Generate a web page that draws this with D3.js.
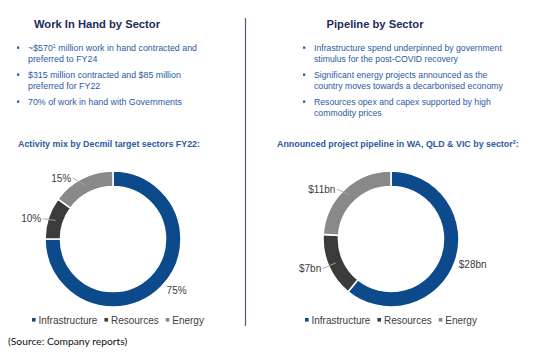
<!DOCTYPE html>
<html><head><meta charset="utf-8">
<script src="https://cdn.jsdelivr.net/npm/d3@7"></script>
<style>
html,body{margin:0;padding:0;background:#fff;}
svg{display:block;font-family:"Liberation Sans",Arial,sans-serif;}
</style></head>
<body><svg id="c" width="533" height="356"></svg>
<script>
const categories = ["Infrastructure", "Resources", "Energy"];
const workInHandShare = [75, 10, 15];          // % of activity mix FY22
const pipelineBn = [28, 7, 11];                // $bn announced pipeline
const workLabels = workInHandShare.map(v => v + "%");
const pipelineLabels = pipelineBn.map(v => "$" + v + "bn");
const colors = ["#0d4a8b", "#3b3b3b", "#898989"];

const leftTitle = "Work In Hand by Sector";
const rightTitle = "Pipeline by Sector";
const leftBullets = [
  [["~$570", "1", " million work in hand contracted and"], ["preferred to FY24"]],
  [["$315 million contracted and $85 million"], ["preferred for FY22"]],
  [["70% of work in hand with Governments"]]
];
const rightBullets = [
  [["Infrastructure spend underpinned by government"], ["stimulus for the post-COVID recovery"]],
  [["Significant energy projects announced as the"], ["country moves towards a decarbonised economy"]],
  [["Resources opex and capex supported by high"], ["commodity prices"]]
];
const leftSub = ["Activity mix by Decmil target sectors FY22:"];
const rightSub = ["Announced project pipeline in WA, QLD & VIC by sector", "2", ":"];
const sourceNote = "(Source: Company reports)";

const svg = d3.select("#c");
const navy = "#1c2b5e", blue = "#2d5aa0", grey = "#404040";

// divider
svg.append("line").attr("x1", 245.5).attr("x2", 245.5).attr("y1", 18).attr("y2", 326)
  .attr("stroke", "#4a5a72").attr("stroke-width", 1.2);

// titles
function title(txt, cx) {
  svg.append("text").attr("x", cx).attr("y", 28).attr("text-anchor", "middle")
    .attr("font-size", 11.2).attr("font-weight", "bold").attr("fill", navy).text(txt);
}
title(leftTitle, 97);
title(rightTitle, 375);

// bullets
function writeParts(t, parts, size) {
  parts.forEach((p, i) => {
    if (i % 2 === 1) {
      t.append("tspan").attr("font-size", size * 0.62).attr("dy", -3.5).text(p);
    } else {
      const ts = t.append("tspan").text(p);
      if (i > 0) ts.attr("dy", 3.5);
    }
  });
}
function bullets(list, mx, tx, y0, size) {
  let y = y0;
  list.forEach(b => {
    svg.append("rect").attr("x", mx - 1).attr("y", y - 1.5).attr("width", 2.3).attr("height", 2.3).attr("fill", blue);
    b.forEach(line => {
      const t = svg.append("text").attr("x", tx).attr("y", y + 3).attr("font-size", size).attr("fill", blue);
      writeParts(t, line, size);
      y += 10.8;
    });
    y += 5.4;
  });
}
bullets(leftBullets, 18, 28, 48, 8.85);
bullets(rightBullets, 304, 314, 48, 8.7);

// subtitles
function sub(parts, x) {
  const t = svg.append("text").attr("x", x).attr("y", 147.2).attr("font-size", 8.9)
    .attr("font-weight", "bold").attr("fill", blue);
  writeParts(t, parts, 8.9);
}
sub(leftSub, 18);
sub(rightSub, 277);

// donuts
const R = 68, r = 52.5;
const arc = d3.arc().innerRadius(r).outerRadius(R);
const mid = d3.arc().innerRadius((R + r) / 2).outerRadius((R + r) / 2);
const pie = d3.pie().sort(null).value(d => d);

function donut(values, labels, cx, cy) {
  const g = svg.append("g").attr("transform", `translate(${cx},${cy})`);
  const arcs = pie(values);
  g.selectAll("path").data(arcs).join("path").attr("d", arc)
    .attr("fill", (d, i) => colors[i]).attr("stroke", "#fff").attr("stroke-width", 1.6);
  arcs.forEach((d, i) => {
    const a = (d.startAngle + d.endAngle) / 2;
    const [mx, my] = mid.centroid(d);
    const left = Math.sin(a) < 0;
    const lx = mx + (left ? -14.5 : 11);
    const ly = my - 10 * Math.cos(a) + 1.5;
    if (left) {
      g.append("line").attr("x1", mx).attr("y1", my).attr("x2", lx + 1.5).attr("y2", ly)
        .attr("stroke", "#a6a6a6").attr("stroke-width", 0.9);
    }
    g.append("text").attr("x", lx).attr("y", ly + 3.6)
      .attr("text-anchor", left ? "end" : "start").attr("font-size", 10).attr("fill", grey)
      .text(labels[i]);
  });
}
donut(workInHandShare, workLabels, 113, 239);
donut(pipelineBn, pipelineLabels, 391, 239);

// legends
function legend(x0) {
  let x = x0;
  categories.forEach((c, i) => {
    svg.append("rect").attr("x", x).attr("y", 318).attr("width", 3.6).attr("height", 3.6).attr("fill", colors[i]);
    const t = svg.append("text").attr("x", x + 6.5).attr("y", 323.6).attr("font-size", 10).attr("fill", grey).text(c);
    x += 6.5 + t.node().getComputedTextLength() + 7;
  });
}
legend(32);
legend(305);

// source
svg.append("text").attr("x", 8).attr("y", 345).attr("font-family", "Lato, 'Open Sans', sans-serif")
  .attr("font-size", 10.3).attr("fill", "#111").text(sourceNote);
</script>
</body></html>
